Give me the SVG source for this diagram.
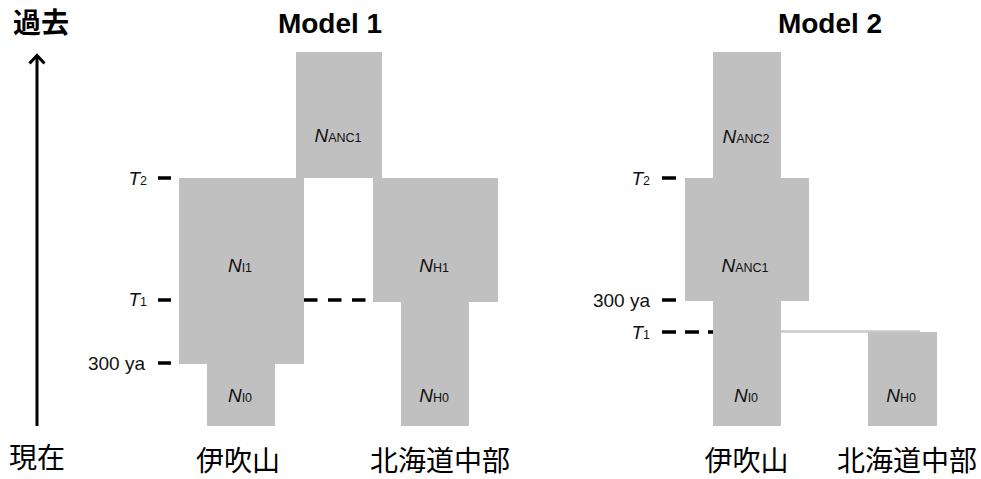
<svg xmlns="http://www.w3.org/2000/svg" width="981" height="479" viewBox="0 0 981 479">
<defs>
<style>
.pop{fill:#c0c0c0;}
.tick{stroke:#000;stroke-width:3.5;fill:none;}
.lbl{font-family:"Liberation Sans",Arial,sans-serif;font-size:19px;fill:#111;}
.nl{font-family:"Liberation Sans",Arial,sans-serif;font-size:19px;fill:#111;text-anchor:middle;}
.nl .n{font-style:italic;}
.nl .s{font-size:12.5px;}
.title{font-family:"Liberation Sans",Arial,sans-serif;font-size:28px;font-weight:bold;fill:#000;text-anchor:middle;}
.jp{font-family:"Liberation Sans","Noto Sans CJK JP",sans-serif;font-size:28px;fill:#000;}
.dash{stroke:#000;stroke-width:3.5;fill:none;}
</style>
</defs>
<rect width="981" height="479" fill="#fff"/>

<g id="axis">
<line x1="37" y1="426" x2="37" y2="56" stroke="#000" stroke-width="3"/>
<polyline points="29.5,63.5 37,55.5 44.5,63.5" fill="none" stroke="#000" stroke-width="3"/>
<text class="jp" x="13" y="33" font-weight="bold" font-size="29">過去</text>
<text class="jp" x="9" y="468">現在</text>
</g>

<text class="title" x="330" y="33">Model 1</text>
<text class="title" x="830" y="33">Model 2</text>

<g id="connectors">
<line class="dash" x1="304" y1="300" x2="366" y2="300" stroke-dasharray="13.5 10.5"/>
<line class="dash" x1="662" y1="332" x2="713" y2="332" stroke-dasharray="14 9"/>
<line x1="781" y1="331.5" x2="920" y2="331.5" stroke="#c8c8c8" stroke-width="2.5"/>
</g>

<g id="m1-ticks">
<line class="tick" x1="158" y1="178" x2="171" y2="178"/>
<line class="tick" x1="158" y1="300" x2="171" y2="300"/>
<line class="tick" x1="158" y1="363" x2="171" y2="363"/>
<text class="lbl" x="147" y="185" text-anchor="end"><tspan font-style="italic">T</tspan><tspan font-size="12.5">2</tspan></text>
<text class="lbl" x="147" y="306" text-anchor="end"><tspan font-style="italic">T</tspan><tspan font-size="12.5">1</tspan></text>
<text class="lbl" x="145" y="369.5" text-anchor="end">300 ya</text>
</g>

<g id="m1-NANC1">
<rect class="pop" x="296" y="52" width="86" height="126"/>
<text class="nl" x="338" y="142"><tspan class="n">N</tspan><tspan class="s">ANC1</tspan></text>
</g>
<g id="m1-NI1">
<rect class="pop" x="179" y="178" width="125" height="186"/>
<text class="nl" x="240" y="272"><tspan class="n">N</tspan><tspan class="s">I1</tspan></text>
</g>
<g id="m1-NI0">
<rect class="pop" x="207" y="364" width="68" height="62"/>
<text class="nl" x="240" y="402"><tspan class="n">N</tspan><tspan class="s">I0</tspan></text>
</g>
<g id="m1-NH1">
<rect class="pop" x="373" y="178" width="125" height="124"/>
<text class="nl" x="434" y="272"><tspan class="n">N</tspan><tspan class="s">H1</tspan></text>
</g>
<g id="m1-NH0">
<rect class="pop" x="401" y="302" width="68" height="124"/>
<text class="nl" x="434" y="402"><tspan class="n">N</tspan><tspan class="s">H0</tspan></text>
</g>
<text class="jp" x="238" y="471" text-anchor="middle">伊吹山</text>
<text class="jp" x="440" y="471" text-anchor="middle">北海道中部</text>

<g id="m2-ticks">
<line class="tick" x1="662" y1="178" x2="676" y2="178"/>
<line class="tick" x1="662" y1="300" x2="676" y2="300"/>
<text class="lbl" x="650" y="185" text-anchor="end"><tspan font-style="italic">T</tspan><tspan font-size="12.5">2</tspan></text>
<text class="lbl" x="650" y="306.5" text-anchor="end">300 ya</text>
<text class="lbl" x="650" y="339" text-anchor="end"><tspan font-style="italic">T</tspan><tspan font-size="12.5">1</tspan></text>
</g>

<g id="m2-NANC2">
<rect class="pop" x="713" y="52" width="68" height="126"/>
<text class="nl" x="746" y="143"><tspan class="n">N</tspan><tspan class="s">ANC2</tspan></text>
</g>
<g id="m2-NANC1">
<rect class="pop" x="685" y="178" width="124" height="123"/>
<text class="nl" x="745" y="272"><tspan class="n">N</tspan><tspan class="s">ANC1</tspan></text>
</g>
<g id="m2-NI0">
<rect class="pop" x="713" y="301" width="68" height="125"/>
<text class="nl" x="746" y="402"><tspan class="n">N</tspan><tspan class="s">I0</tspan></text>
</g>
<g id="m2-NH0">
<rect class="pop" x="868" y="332" width="69" height="94"/>
<text class="nl" x="901" y="402"><tspan class="n">N</tspan><tspan class="s">H0</tspan></text>
</g>
<text class="jp" x="746.5" y="471" text-anchor="middle">伊吹山</text>
<text class="jp" x="907" y="471" text-anchor="middle">北海道中部</text>
</svg>
